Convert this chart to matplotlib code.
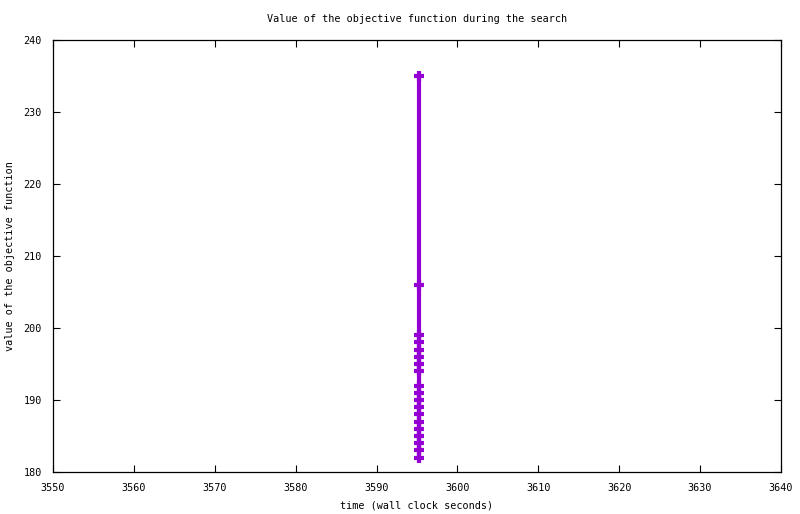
import matplotlib
matplotlib.use("Agg")
import matplotlib.pyplot as plt

# objective value at each improvement (all logged at the same wall-clock time)
times = [3595.2] * 19
values = [235, 206, 199, 198, 197, 196, 195, 194, 192, 191, 190,
          189, 188, 187, 186, 185, 184, 183, 182]

x_ticks = [3550, 3560, 3570, 3580, 3590, 3600, 3610, 3620, 3630, 3640]
y_ticks = [180, 190, 200, 210, 220, 230, 240]

plt.rcParams["font.family"] = "DejaVu Sans Mono"
plt.rcParams["font.size"] = 7.3

fig = plt.figure(figsize=(8.0, 5.14), dpi=100)
ax = fig.add_axes([53 / 800, 1 - 472 / 514, 728 / 800, 432 / 514])

ax.plot(times, values, color="#9400D3", linewidth=3.0, marker="+",
        markersize=7.5, markeredgewidth=3.0, solid_capstyle="butt")

ax.set_xlim(3550, 3640)
ax.set_ylim(180, 240)
ax.set_xticks(x_ticks)
ax.set_yticks(y_ticks)
ax.tick_params(direction="in", length=5, width=0.8, top=True, right=True, pad=8)
for side in ax.spines.values():
    side.set_linewidth(0.9)

ax.set_title("Value of the objective function during the search", pad=13, fontsize=7.3)
ax.set_xlabel("time (wall clock seconds)", labelpad=5)
ax.set_ylabel("value of the objective function", labelpad=6)

fig.savefig("out.png", dpi=100)
